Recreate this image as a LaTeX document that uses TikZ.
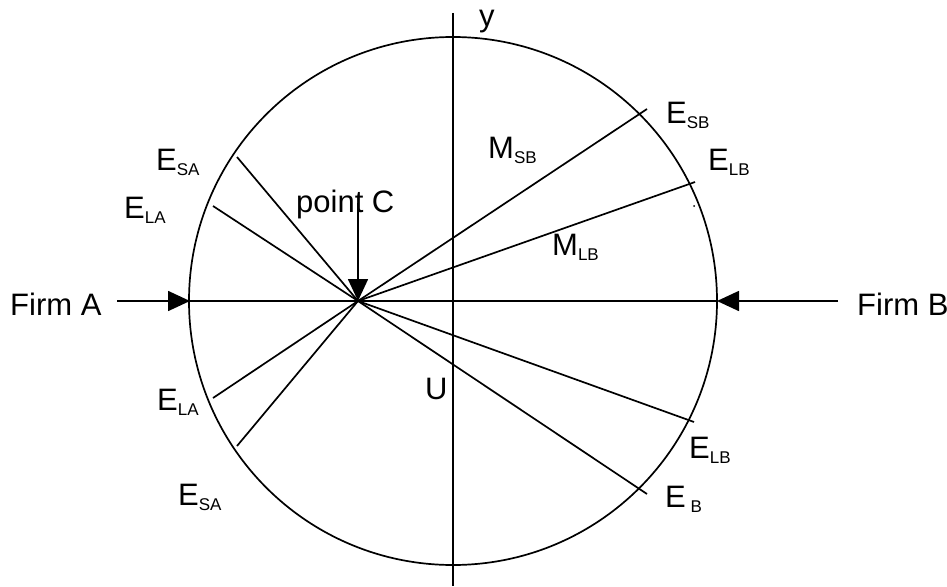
\documentclass[tikz,border=0pt]{standalone}
\usepackage{fontspec}
\setmainfont{Liberation Sans}
\usetikzlibrary{arrows.meta}
\tikzset{
  lbl/.style={font=\fontsize{31}{36}\selectfont, inner sep=0pt, anchor=base west},
  ray/.style={line width=1.7pt},
  push/.style={line width=1.7pt, -{Triangle[length=22pt, width=20pt]}},
}
\newcommand{\Esub}[2]{#1\raisebox{-5pt}{\fontsize{17}{17}\selectfont #2}}

\begin{document}
\begin{tikzpicture}[x=1pt, y=-1pt]
  \useasboundingbox (0,0) rectangle (947,586);
  % market circle and axes
  \coordinate (O) at (453,301);
  \draw[ray] (O) circle[radius=264];
  \coordinate (ytop) at (453,13);
  \coordinate (ybot) at (453,586);
  \draw[ray] (ytop) -- (ybot);
  \coordinate (C) at (358,301);
  \coordinate (tipA) at (190,301);
  \coordinate (tipB) at (717,301);
  \coordinate (startA) at (117,301);
  \coordinate (startB) at (838,301);
  \coordinate (startC) at (358,203);
  \draw[ray] (tipA) -- (tipB);
  \draw[push] (startA) -- (tipA);
  \draw[push] (startB) -- (tipB);
  \draw[push] (startC) -- (C);
  % end points of the rays
  \coordinate (esaU) at (237,157);
  \coordinate (elaU) at (213,206);
  \coordinate (elaD) at (213,398);
  \coordinate (esaD) at (237,446);
  \coordinate (esb) at (647,109);
  \coordinate (elbU) at (695,182);
  \coordinate (elbD) at (694,422);
  \coordinate (eb) at (647,494);
  \foreach \e in {esaU, elaU, elaD, esaD, esb, elbU, elbD, eb}
    \draw[ray] (C) -- (\e);
  \fill (694,206) circle[radius=1];
  % labels
  \node[lbl] (firmA) at (10,315) {Firm A};
  \node[lbl] (firmB) at (857,315) {Firm B};
  \node[lbl] (ptC) at (296,212) {point C};
  \node[lbl] (ylab) at (479,27) {y};
  \node[lbl] (ulab) at (425,399) {U};
  \node[lbl] (lesaU) at (156,170) {\Esub{E}{SA}};
  \node[lbl] (lelaU) at (124,218) {\Esub{E}{LA}};
  \node[lbl] (lelaD) at (157,410) {\Esub{E}{LA}};
  \node[lbl] (lesaD) at (178,505) {\Esub{E}{SA}};
  \node[lbl] (lmsb) at (488,158) {\Esub{M}{SB}};
  \node[lbl] (lmlb) at (552,255) {\Esub{M}{LB}};
  \node[lbl] (lesb) at (666,123) {\Esub{E}{SB}};
  \node[lbl] (lelbU) at (708,170) {\Esub{E}{LB}};
  \node[lbl] (lelbD) at (689,458) {\Esub{E}{LB}};
  \node[lbl] (leb) at (665,507) {\Esub{E}{\ B}};
\end{tikzpicture}
\end{document}
